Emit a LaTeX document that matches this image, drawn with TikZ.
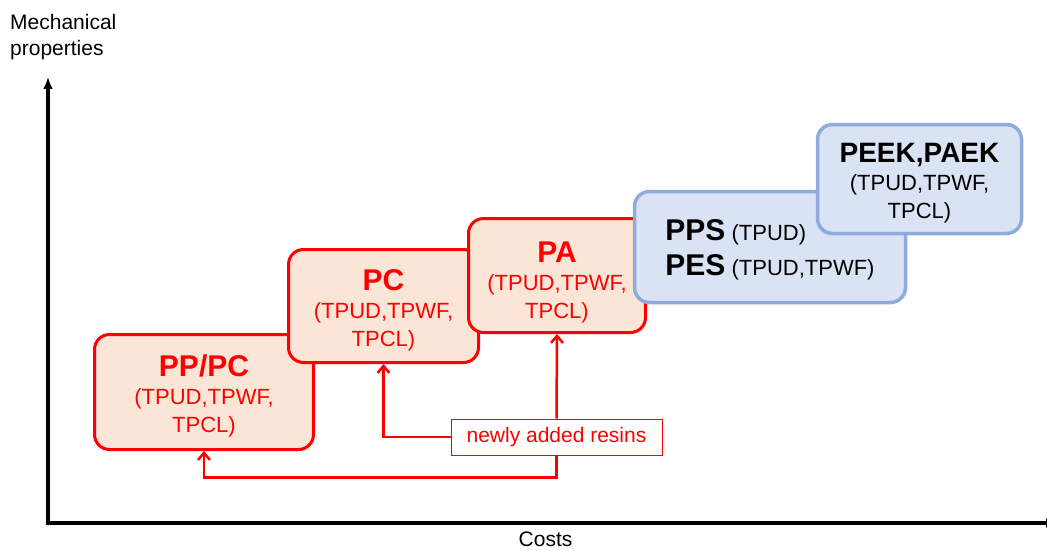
\documentclass[tikz,border=0pt]{standalone}
\usepackage{fontspec}
\setmainfont{Liberation Sans}
\usetikzlibrary{arrows.meta}
\definecolor{resinred}{HTML}{FF0000}
\definecolor{resinfill}{HTML}{FBE5D6}
\definecolor{superline}{HTML}{8FAADC}
\definecolor{superfill}{HTML}{DAE3F3}
% bold resin name, with a strut that sets how far the text sits down
\newcommand{\resinname}[2][30pt]{{\rule{0pt}{#1}\bfseries\fontsize{30}{28}\selectfont #2}}
\tikzset{
    %Define standard arrow tip
    >={Straight Barb[length=7pt,width=12pt]},
    %Define style for the newly added resin boxes
    newresin/.style={
           rectangle,
           rounded corners=15pt,
           draw=resinred, line width=3pt,
           fill=resinfill,
           text=resinred,
           align=center,
           font=\fontsize{22}{28}\selectfont},
    %Define style for the other resin boxes
    oldresin/.style={
           rectangle,
           rounded corners=15pt,
           draw=superline, line width=3.5pt,
           fill=superfill,
           text=black,
           align=center,
           font=\fontsize{22}{28}\selectfont},
    annote/.style={
          font=\fontsize{21}{26}\selectfont,
          inner sep=0pt
    },
    % Define arrow style
    arrow/.style={
           ->,
           draw=resinred,
           line width=2.5pt},
    axis/.style={
           {Latex[length=12pt,width=10pt]}-{Latex[length=12pt,width=10pt]},
           line width=3.5pt},
}
\begin{document}
\begin{tikzpicture}[x=1pt,y=-1pt]
  \useasboundingbox (0,0) rectangle (1047,551);
  \node[newresin, minimum width=219pt, minimum height=115pt] (pppc) at (204,392)
      {\resinname{PP/PC}\\(TPUD,TPWF,\\TPCL)};
  \node[newresin, minimum width=190pt, minimum height=113pt] (pc) at (383.5,306)
      {\resinname{PC}\\(TPUD,TPWF,\\TPCL)};
  \node[newresin, minimum width=177pt, minimum height=114pt] (pa) at (557,275.5)
      {\resinname[34pt]{PA}\\(TPUD,TPWF,\\TPCL)};
  \node[oldresin, minimum width=271pt, minimum height=111pt, align=left,
        font=\fontsize{22}{35}\selectfont] (pps) at (770,247)
      {\resinname[26pt]{PPS} (TPUD)\\\resinname[0pt]{PES} (TPUD,TPWF)};
  \node[oldresin, minimum width=204pt, minimum height=109pt] (peek) at (919.5,179)
      {{\rule{0pt}{27pt}\bfseries\fontsize{28}{28}\selectfont PEEK,PAEK}\\(TPUD,TPWF,\\TPCL)};

  \node[rectangle, draw=resinred, line width=1pt, fill=white, text=resinred,
        minimum width=211pt, minimum height=36pt,
        font=\fontsize{21}{25}\selectfont] (added) at (556.5,437) {newly added resins};
  \draw[arrow] (added.west) -| (pc.south);
  \draw[arrow] (added.north) -- (pa.south);
  \draw[arrow] (added.south) -- ++(0,22) -| (pppc.south);

  % axes
  \coordinate (origin) at (48,523);
  \coordinate (ytop) at (48,77);
  \coordinate (xend) at (1058,523);
  \draw[axis] (ytop) -- (origin) -- (xend);
  \node[annote, anchor=north west, align=left] (ylabel) at (10,14.5) {Mechanical\\properties};
  \node[annote, anchor=base] (xlabel) at (545.5,546) {Costs};
\end{tikzpicture}
\end{document}
